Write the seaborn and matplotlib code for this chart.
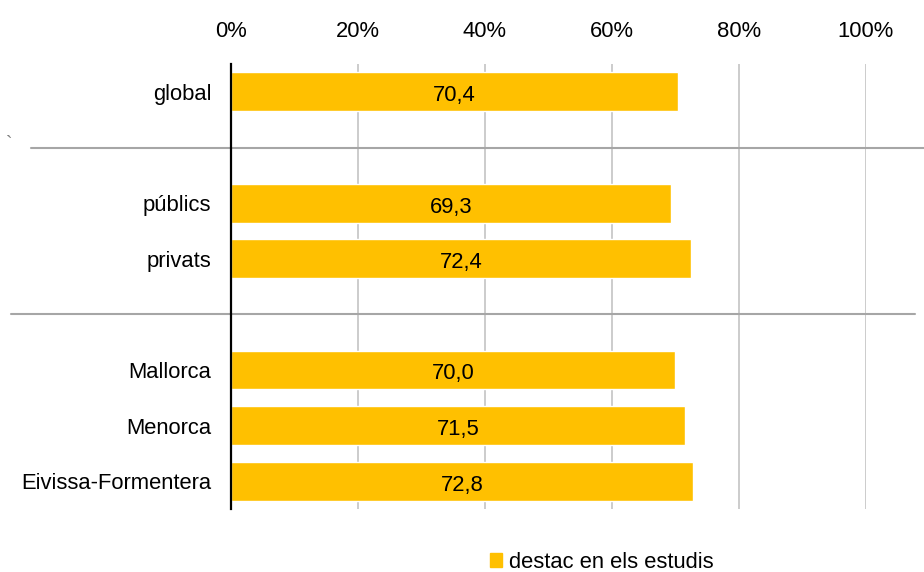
import numpy as np
import pandas as pd
import seaborn as sns
import matplotlib
matplotlib.use("Agg")
import matplotlib.pyplot as plt
from matplotlib.patches import Patch

# data ("" and " " are the empty separator rows)
categories = ["global", "", "públics", "privats", " ", "Mallorca", "Menorca", "Eivissa-Formentera"]
values = [70.4, np.nan, 69.3, 72.4, np.nan, 70.0, 71.5, 72.8]
series_name = "destac en els estudis"
x_ticks = [0, 20, 40, 60, 80, 100]
x_tick_labels = ["0%", "20%", "40%", "60%", "80%", "100%"]

df = pd.DataFrame({"cat": categories, "val": values}).dropna()

sns.set_style("white")
plt.rcParams["font.family"] = ["Liberation Sans", "DejaVu Sans"]
plt.rcParams["font.size"] = 15.8

fig = plt.figure(figsize=(9.24, 5.72), dpi=100)
ax = fig.add_axes([0.25, 0.110, 0.687, 0.778])

bar_color = "#FFC000"
sns.barplot(data=df, x="val", y="cat", order=categories, color=bar_color,
            saturation=1, width=0.7, ax=ax, errorbar=None)

ax.set_xlim(0, 100)
ax.set_ylim(len(categories) - 0.5, -0.5)
ax.set_xticks(x_ticks)
ax.set_xticklabels(x_tick_labels)
ax.xaxis.tick_top()
ax.tick_params(axis="x", length=0, pad=16, colors="#000000")
ax.tick_params(axis="y", length=0, pad=14, colors="#000000")
ax.set_xlabel("")
ax.set_ylabel("")

ax.grid(axis="x", color="#c8c8c8", linewidth=1.3)
ax.set_axisbelow(True)
for side in ["top", "right", "bottom"]:
    ax.spines[side].set_visible(False)
ax.spines["left"].set_color("#000000")
ax.spines["left"].set_linewidth(1.6)
ax.spines["left"].set_zorder(5)

# value labels in the middle of each bar
for p in ax.patches:
    w = p.get_width()
    if np.isnan(w) or w == 0:
        continue
    ax.text(w / 2, p.get_y() + p.get_height() / 2 + 0.07,
            f"{w:.1f}".replace(".", ","), ha="center", va="center",
            color="#000000")

# group separators
tr = ax.get_yaxis_transform()
ax.plot([-0.315, 1.091], [1, 1], transform=tr, color="#a6a6a6",
        linewidth=1.5, clip_on=False, zorder=1)
ax.plot([-0.346, 1.077], [4, 4], transform=tr, color="#a6a6a6",
        linewidth=1.5, clip_on=False, zorder=1)

fig.text(0.007, 1 - 144 / 572, "`", fontsize=14, color="#808080",
         ha="left", va="center")

leg = fig.legend(handles=[Patch(color=bar_color, label=series_name)],
                 loc="center", bbox_to_anchor=(0.651, 0.017), frameon=False,
                 handlelength=0.55, handleheight=0.55, handletextpad=0.3)
for t in leg.get_texts():
    t.set_color("#000000")

fig.savefig("out.png", dpi=100)
